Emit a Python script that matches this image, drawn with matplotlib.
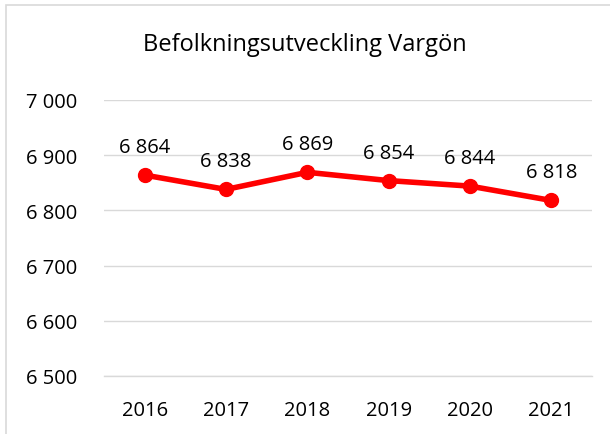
import matplotlib

matplotlib.use("Agg")
import matplotlib.pyplot as plt
from matplotlib.patches import Rectangle

years = ["2016", "2017", "2018", "2019", "2020", "2021"]
population = [6864, 6838, 6869, 6854, 6844, 6818]
yticks = [6500, 6600, 6700, 6800, 6900, 7000]


def fmt(v):
    # svensk tusentalsavgransare (mellanslag)
    return f"{v:,}".replace(",", " ")


plt.rcParams["font.family"] = ["Open Sans", "DejaVu Sans"]

W, H = 610, 435
fig = plt.figure(figsize=(W / 100, H / 100), dpi=100)
ax = fig.add_axes([104 / W, 1 - 377 / H, (592 - 104) / W, (377 - 101) / H])

x = range(len(years))
ax.plot(x, population, color="#ff0000", linewidth=4.0, marker="o",
        markersize=10, solid_capstyle="round", zorder=3)
for xi, v in zip(x, population):
    ax.annotate(fmt(v), (xi, v), xytext=(0, 13), textcoords="offset points",
                ha="center", va="bottom", fontsize=14.5, color="black")

ax.set_xlim(-0.5, len(years) - 0.5)
ax.set_ylim(6500, 7000)
ax.set_yticks(yticks)
ax.set_yticklabels([fmt(t) for t in yticks])
ax.set_xticks(list(x))
ax.set_xticklabels(years)
ax.tick_params(axis="both", length=0, labelsize=14.5, colors="black")
ax.tick_params(axis="y", pad=19)
ax.tick_params(axis="x", pad=17)
ax.grid(True, axis="y", color="#d9d9d9", linewidth=1.0)
for s in ["top", "right", "left"]:
    ax.spines[s].set_visible(False)
ax.spines["bottom"].set_color("#d9d9d9")
ax.spines["bottom"].set_linewidth(1.0)

fig.text(0.5, 1 - 45 / H, "Befolkningsutveckling Vargön", ha="center",
         va="center", fontsize=17)

# ram runt diagramytan (beskuren till hoger och nederkant)
fig.patches.append(Rectangle((6 / W, -0.1), 1.2, 1 - 6 / H + 0.1,
                             transform=fig.transFigure, fill=False,
                             edgecolor="#d9d9d9", linewidth=1.2))

fig.savefig("out.png", dpi=100, facecolor="white")
